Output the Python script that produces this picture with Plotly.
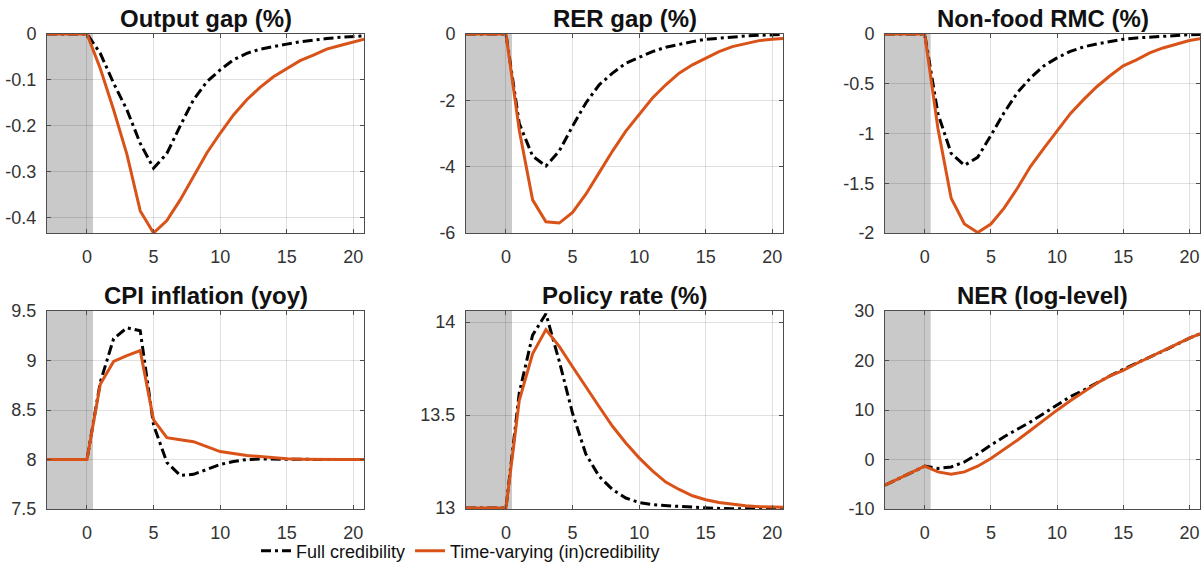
import plotly.graph_objects as go

# ---------------- data ----------------
t = [-3, -2, -1, 0, 1, 2, 3, 4, 5, 6, 7, 8, 9, 10, 11, 12, 13, 14, 15, 16, 17, 18, 19, 20, 21]

output_full = [0, 0, 0, 0, -0.042, -0.107, -0.165, -0.238, -0.292, -0.26, -0.20, -0.143, -0.104,
               -0.078, -0.056, -0.042, -0.033, -0.027, -0.022, -0.017, -0.013, -0.010, -0.007, -0.005, -0.004]
output_tv = [0, 0, 0, 0, -0.075, -0.165, -0.262, -0.385, -0.433, -0.406, -0.361, -0.31, -0.259,
             -0.216, -0.176, -0.143, -0.116, -0.093, -0.075, -0.058, -0.046, -0.033, -0.025, -0.017, -0.010]

rer_full = [0, 0, 0, 0, -2.7, -3.68, -3.98, -3.53, -2.78, -2.08, -1.53, -1.18, -0.88,
            -0.70, -0.53, -0.40, -0.31, -0.23, -0.16, -0.12, -0.08, -0.06, -0.04, -0.02, -0.01]
rer_tv = [0, 0, 0, 0, -2.9, -5.0, -5.66, -5.7, -5.38, -4.83, -4.18, -3.53, -2.93,
          -2.43, -1.93, -1.53, -1.18, -0.93, -0.73, -0.53, -0.38, -0.28, -0.20, -0.16, -0.13]

rmc_full = [0, 0, 0, 0, -0.8, -1.2, -1.32, -1.24, -1.02, -0.79, -0.59, -0.44, -0.32,
            -0.24, -0.175, -0.13, -0.10, -0.076, -0.053, -0.04, -0.03, -0.02, -0.013, -0.007, -0.003]
rmc_tv = [0, 0, 0, 0, -0.95, -1.65, -1.91, -1.995, -1.91, -1.75, -1.55, -1.33, -1.15,
          -0.97, -0.80, -0.66, -0.53, -0.42, -0.32, -0.26, -0.19, -0.14, -0.10, -0.066, -0.043]

cpi_full = [8, 8, 8, 8, 8.78, 9.22, 9.33, 9.30, 8.35, 7.97, 7.84, 7.85, 7.90,
            7.95, 7.98, 8.0, 8.005, 8.003, 8.0, 8.0, 8.0, 8.0, 8.0, 8.0, 8.0]
cpi_tv = [8, 8, 8, 8, 8.76, 8.99, 9.05, 9.10, 8.40, 8.22, 8.20, 8.18, 8.13,
          8.08, 8.06, 8.04, 8.03, 8.015, 8.007, 8.003, 8.0, 8.0, 8.0, 8.0, 8.0]

rate_full = [13, 13, 13, 13, 13.62, 13.93, 14.045, 13.79, 13.51, 13.29, 13.17, 13.10, 13.054,
             13.03, 13.018, 13.012, 13.009, 13.005, 13.0, 12.998, 12.997, 12.996, 12.996, 12.995, 12.995]
rate_tv = [13, 13, 13, 13, 13.58, 13.83, 13.96, 13.87, 13.76, 13.65, 13.545, 13.44, 13.35,
           13.27, 13.20, 13.14, 13.10, 13.066, 13.045, 13.03, 13.02, 13.013, 13.007, 13.005, 13.004]

ner_full = [-5.2, -3.9, -2.6, -1.35, -1.8, -1.5, -0.5, 1.1, 2.9, 4.6, 6.1, 7.6, 9.3,
            11.0, 12.7, 14.0, 15.5, 16.9, 18.2, 19.5, 20.7, 21.9, 23.2, 24.5, 25.6]
ner_tv = [-5.2, -3.9, -2.6, -1.35, -2.5, -2.96, -2.5, -1.35, 0.2, 2.0, 3.9, 5.9, 7.95,
          9.97, 11.85, 13.7, 15.4, 16.9, 18.0, 19.4, 20.7, 21.9, 23.2, 24.5, 25.6]

titles = ["Output gap (%)", "RER gap (%)", "Non-food RMC (%)",
          "CPI inflation (yoy)", "Policy rate (%)", "NER (log-level)"]
full_series = [output_full, rer_full, rmc_full, cpi_full, rate_full, ner_full]
tv_series = [output_tv, rer_tv, rmc_tv, cpi_tv, rate_tv, ner_tv]
y_ranges = [[-0.433, 0], [-6, 0], [-2, 0], [7.5, 9.5], [12.995, 14.06], [-10, 30]]
y_ticks = [[-0.4, -0.3, -0.2, -0.1, 0], [-6, -4, -2, 0], [-2, -1.5, -1, -0.5, 0],
           [7.5, 8, 8.5, 9, 9.5], [13, 13.5, 14], [-10, 0, 10, 20, 30]]
y_ticktext = [["-0.4", "-0.3", "-0.2", "-0.1", "0"], ["-6", "-4", "-2", "0"],
              ["-2", "-1.5", "-1", "-0.5", "0"], ["7.5", "8", "8.5", "9", "9.5"],
              ["13", "13.5", "14"], ["-10", "0", "10", "20", "30"]]
x_ticks = [0, 5, 10, 15, 20]
x_range = [-3, 20.8]
shade_end = 0.45
legend_names = ["Full credibility", "Time-varying (in)credibility"]

# ---------------- layout geometry ----------------
W, H = 1204, 573
col_px = [(47, 364), (466, 783), (885, 1200)]
row_px = [(34, 233), (311, 509)]

FONT = "Liberation Sans, Arial, Helvetica, sans-serif"
ORANGE = "#D95319"
AXCOL = "#4d4d4d"

fig = go.Figure()
layout = dict(
    width=W, height=H,
    margin=dict(l=0, r=0, t=0, b=0, pad=0, autoexpand=False),
    paper_bgcolor="white", plot_bgcolor="white",
    font=dict(family=FONT, size=18, color="#262626"),
    showlegend=True,
    legend=dict(orientation="h", x=256 / W, xanchor="left", y=1 - 551 / H, yanchor="middle",
                font=dict(size=18, color="#111111"), bgcolor="rgba(0,0,0,0)",
                itemwidth=30, tracegroupgap=0),
)
shapes = []
annotations = []

for i in range(6):
    r, c = divmod(i, 3)
    n = i + 1
    xa = "x" if n == 1 else f"x{n}"
    ya = "y" if n == 1 else f"y{n}"
    xk = "xaxis" if n == 1 else f"xaxis{n}"
    yk = "yaxis" if n == 1 else f"yaxis{n}"
    x0, x1 = col_px[c]
    ytop, ybot = row_px[r]
    common = dict(showline=True, linecolor=AXCOL, linewidth=1, mirror="ticks",
                  ticks="inside", ticklen=4, tickcolor=AXCOL, tickwidth=1,
                  showgrid=True, gridcolor="rgba(0,0,0,0.12)", gridwidth=1,
                  zeroline=False, automargin=False, tickfont=dict(size=18, color="#333333"))
    layout[xk] = dict(domain=[x0 / W, x1 / W], anchor=ya, range=x_range,
                      tickmode="array", tickvals=x_ticks, ticktext=[str(v) for v in x_ticks],
                      ticklabelstandoff=7, **common)
    layout[yk] = dict(domain=[1 - ybot / H, 1 - ytop / H], anchor=xa, range=y_ranges[i],
                      tickmode="array", tickvals=y_ticks[i], ticktext=y_ticktext[i],
                      ticklabelstandoff=6, **common)
    shapes.append(dict(type="rect", xref=xa, yref=f"{ya} domain", x0=x_range[0], x1=shade_end,
                       y0=0, y1=1, fillcolor="#c9c9c9", line=dict(width=0), layer="below"))
    annotations.append(dict(text=f"<b>{titles[i]}</b>", xref="paper", yref="paper",
                            x=(x0 + x1) / 2 / W, y=1 - (ytop - 16) / H,
                            xanchor="center", yanchor="middle", showarrow=False,
                            font=dict(size=24, color="#111111", family=FONT)))
    fig.add_trace(go.Scatter(x=t, y=full_series[i], mode="lines", xaxis=xa, yaxis=ya,
                             name=legend_names[0], legendgroup="full", showlegend=(i == 0),
                             line=dict(color="black", width=3, dash="10px,4px,3px,4px")))
    fig.add_trace(go.Scatter(x=t, y=tv_series[i], mode="lines", xaxis=xa, yaxis=ya,
                             name=legend_names[1], legendgroup="tv", showlegend=(i == 0),
                             line=dict(color=ORANGE, width=3)))

layout["shapes"] = shapes
layout["annotations"] = annotations
fig.update_layout(**layout)
fig.write_html("out.html", config={"displayModeBar": False},
               post_script="document.body.style.margin='0px';")
